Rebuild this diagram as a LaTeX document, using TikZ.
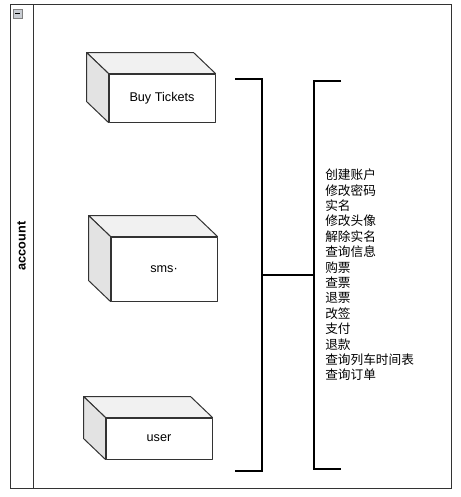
\documentclass[tikz,border=0pt]{standalone}
\usepackage{fontspec}
\setmainfont{Liberation Sans}
\newfontfamily\cjk{Noto Sans CJK SC}
\usepackage{xcolor}
\usetikzlibrary{
    positioning,
    calc
}
\definecolor{lanegray}{HTML}{333333}
\definecolor{cubetop}{HTML}{F1F1F1}
\definecolor{cubeside}{HTML}{E3E3E3}
\definecolor{icongray}{HTML}{C9CDD3}
\tikzset{
    % Edge of the cube faces
    cubeedge/.style={
        draw=lanegray,
        line width=0.75pt,
        line join=round
    },
    % Front face of a cube
    cubefront/.style={
        rectangle,
        cubeedge,
        fill=white,
        minimum width=79.5pt,
        minimum height=#1,
        font=\fontsize{9.5}{11}\selectfont,
        inner sep=0pt
    },
    cubefront/.default=36pt,
    % Swimlane frame
    laneline/.style={
        draw=lanegray,
        line width=0.75pt
    },
    % Bracket line
    bracketline/.style={
        draw=black,
        line width=1.5pt
    },
    % Function list
    funclist/.style={
        align=left,
        inner sep=0pt,
        font=\cjk\fontsize{9.5}{11.55}\selectfont
    }
}
% top and left faces behind a front face
\newcommand{\cubefaces}[1]{%
    \draw[cubeedge, fill=cubetop] (#1.north west) -- ++(-22,-21) -- ($(#1.north east)+(-22,-21)$) -- (#1.north east) -- cycle;
    \draw[cubeedge, fill=cubeside] (#1.north west) -- ++(-22,-21) -- ($(#1.south west)+(-22,-21)$) -- (#1.south west) -- cycle;
}

\begin{document}
\begin{tikzpicture}[x=0.75pt, y=-0.75pt]
    \useasboundingbox (0,0) rectangle (461,497);

    % swimlane
    \draw[laneline] (10,4) rectangle (451,488);
    \draw[laneline] (33,4) -- (33,488);
    \node[rotate=90, font=\bfseries\fontsize{9.5}{11}\selectfont, inner sep=0pt] (lanetitle) at (21.5,246) {account};
    \draw[draw=gray, fill=icongray, line width=0.5pt] (13,9) rectangle (22,18);
    \draw[line width=1pt] (15,13.5) -- (20,13.5);

    % cubes
    \node[cubefront=36pt] (buy) at (162,98) {Buy Tickets};
    \node[cubefront=48pt] (sms) at (164,269) {sms·};
    \node[cubefront=30.75pt] (user) at (159,438.5) {user};
    \cubefaces{buy}
    \cubefaces{sms}
    \cubefaces{user}

    % brackets
    \coordinate (lb-top) at (235,79);
    \coordinate (lb-bot) at (235,471);
    \coordinate (lb-mid) at (262,275);
    \coordinate (rb-top) at (341,81);
    \coordinate (rb-bot) at (341,469);
    \coordinate (rb-mid) at (314,275);
    \draw[bracketline] (lb-top) -| (lb-mid) |- (lb-bot);
    \draw[bracketline] (rb-top) -| (rb-mid) |- (rb-bot);
    \draw[bracketline] (lb-mid) -- (rb-mid);

    % functions
    \node[funclist, right=8.25pt of rb-mid] (funcs) {创建账户\\修改密码\\实名\\修改头像\\解除实名\\查询信息\\购票\\查票\\退票\\改签\\支付\\退款\\查询列车时间表\\查询订单};
\end{tikzpicture}
\end{document}
